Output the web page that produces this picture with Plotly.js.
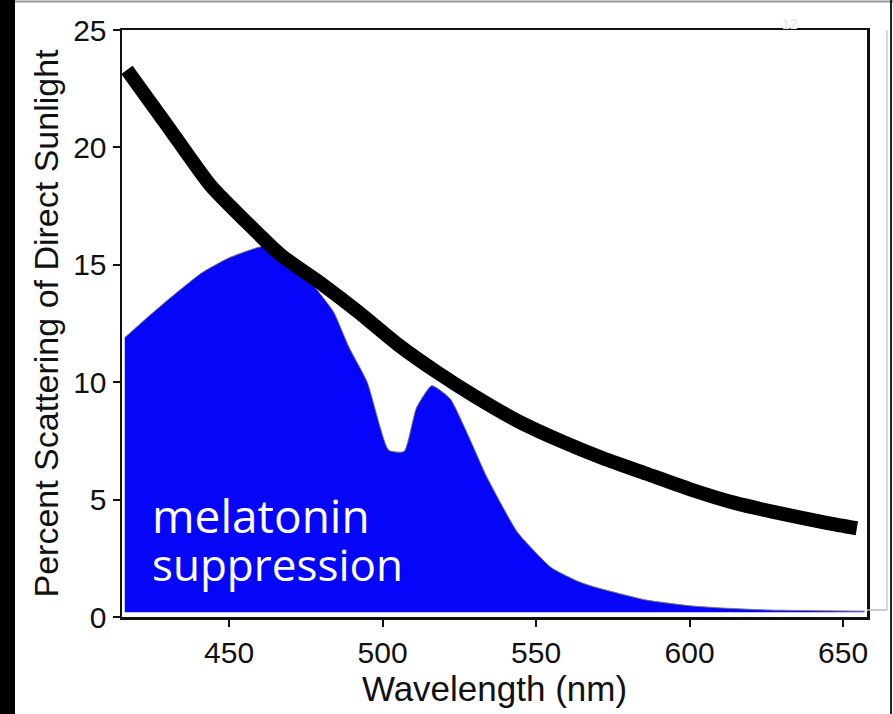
<!DOCTYPE html>
<html>
<head>
<meta charset="utf-8">
<script src="https://cdn.plot.ly/plotly-3.0.1.min.js"></script>
<style>html,body{margin:0;padding:0;background:#fff;}#chart{width:893px;height:714px;}</style>
</head>
<body>
<div id="chart"></div>
<script>
// Scattering of direct sunlight (%)
const wavelengthScatter = [416.7, 430, 443.8, 455, 467, 480, 492, 505, 518, 530, 544, 558, 572, 586, 600, 615, 630, 645, 654.5];
const scatterPct        = [23.3, 20.9, 18.4, 16.9, 15.4, 14.2, 13.0, 11.6, 10.4, 9.4, 8.35, 7.5, 6.75, 6.1, 5.45, 4.85, 4.4, 4.0, 3.78];

// Melatonin suppression curve
const wavelengthMel = [416, 422, 430, 441, 450, 460, 465, 469, 477, 484, 489, 495, 502, 507, 511, 516, 522, 528, 534, 544, 555, 564, 569, 586, 600, 611, 625, 640, 657];
const melPct        = [11.9, 12.6, 13.5, 14.65, 15.3, 15.76, 15.8, 15.5, 14.2, 13.0, 11.5, 10.0, 7.1, 7.05, 8.9, 9.85, 9.3, 7.7, 5.95, 3.6, 2.1, 1.5, 1.28, 0.72, 0.48, 0.38, 0.3, 0.27, 0.25];
const fillBase = 0.2;

const xTicks = [450, 500, 550, 600, 650];
const yTicks = [0, 5, 10, 15, 20, 25];
const labelLines = ["melatonin", "suppression"];

const axisFont = {family: "Liberation Sans, Arial, sans-serif", size: 30, color: "#111"};

const traces = [
  {x: wavelengthMel, y: wavelengthMel.map(() => fillBase), mode: "lines", line: {width: 0}, hoverinfo: "skip", showlegend: false},
  {x: wavelengthMel, y: melPct, mode: "lines", fill: "tonexty", fillcolor: "rgb(5,5,250)",
   line: {color: "#777", width: 1, shape: "spline", smoothing: 0.5}, showlegend: false},
  {x: wavelengthScatter, y: scatterPct, mode: "lines", line: {color: "#000", width: 14, shape: "spline", smoothing: 0.6}, showlegend: false}
];

const pw = 745, ph = 587;
const layout = {
  width: 893, height: 714,
  margin: {l: 122, r: 26, t: 30, b: 97},
  paper_bgcolor: "#fff", plot_bgcolor: "#fff",
  showlegend: false,
  xaxis: {
    range: [415.1, 657.8], tickvals: xTicks, ticktext: xTicks.map(String),
    ticks: "outside", ticklen: 7, tickwidth: 2, tickcolor: "#111",
    showline: true, linecolor: "#111", linewidth: 2.5, mirror: true,
    showgrid: false, zeroline: false, tickfont: axisFont,
    title: {text: "Wavelength (nm)", font: {family: "Liberation Sans, Arial, sans-serif", size: 35, color: "#111"}, standoff: 4}
  },
  yaxis: {
    range: [0, 25], tickvals: yTicks, ticktext: yTicks.map(String),
    ticks: "outside", ticklen: 7, tickwidth: 2, tickcolor: "#111",
    showline: true, linecolor: "#111", linewidth: 2.5, mirror: true,
    showgrid: false, zeroline: false, tickfont: axisFont,
    title: {text: "Percent Scattering of Direct Sunlight", font: {family: "Liberation Sans, Arial, sans-serif", size: 34, color: "#111"}, standoff: 4}
  },
  annotations: [
    {x: 424.3, y: 4.35, xref: "x", yref: "y", text: labelLines[0], showarrow: false, xanchor: "left", yanchor: "middle",
     font: {family: "Open Sans, sans-serif", size: 46, color: "#fff"}},
    {x: 424.3, y: 2.25, xref: "x", yref: "y", text: labelLines[1], showarrow: false, xanchor: "left", yanchor: "middle",
     font: {family: "Open Sans, sans-serif", size: 44, color: "#fff"}},
    {x: (800-122)/pw, y: 1 + 16/ph, xref: "paper", yref: "paper", text: "12", showarrow: false,
     font: {family: "Liberation Sans, Arial, sans-serif", size: 14, color: "#e6e6e6"}}
  ],
  shapes: [
    {type: "rect", xref: "paper", yref: "paper", x0: -122/pw, x1: -107/pw, y0: -97/ph, y1: 1 + 30/ph,
     fillcolor: "#000", line: {width: 0}, layer: "above"},
    {type: "line", xref: "paper", yref: "paper", x0: -107/pw, x1: 1 + 26/pw, y0: 1 + 28.5/ph, y1: 1 + 28.5/ph,
     line: {color: "#999", width: 2}},
    {type: "line", xref: "paper", yref: "paper", x0: 1 + 24/pw, x1: 1 + 24/pw, y0: -97/ph, y1: 1 + 30/ph,
     line: {color: "#222", width: 2}},
    {type: "line", xref: "paper", yref: "paper", x0: 1 + 20/pw, x1: 1 + 20/pw, y0: 7/ph, y1: 1,
     line: {color: "#ccc", width: 1.5}},
    {type: "line", xref: "paper", yref: "paper", x0: 1, x1: 1 + 20/pw, y0: 7/ph, y1: 7/ph,
     line: {color: "#bbb", width: 1.5}}
  ]
};

Plotly.newPlot("chart", traces, layout, {staticPlot: true, displayModeBar: false});
</script>
</body>
</html>
